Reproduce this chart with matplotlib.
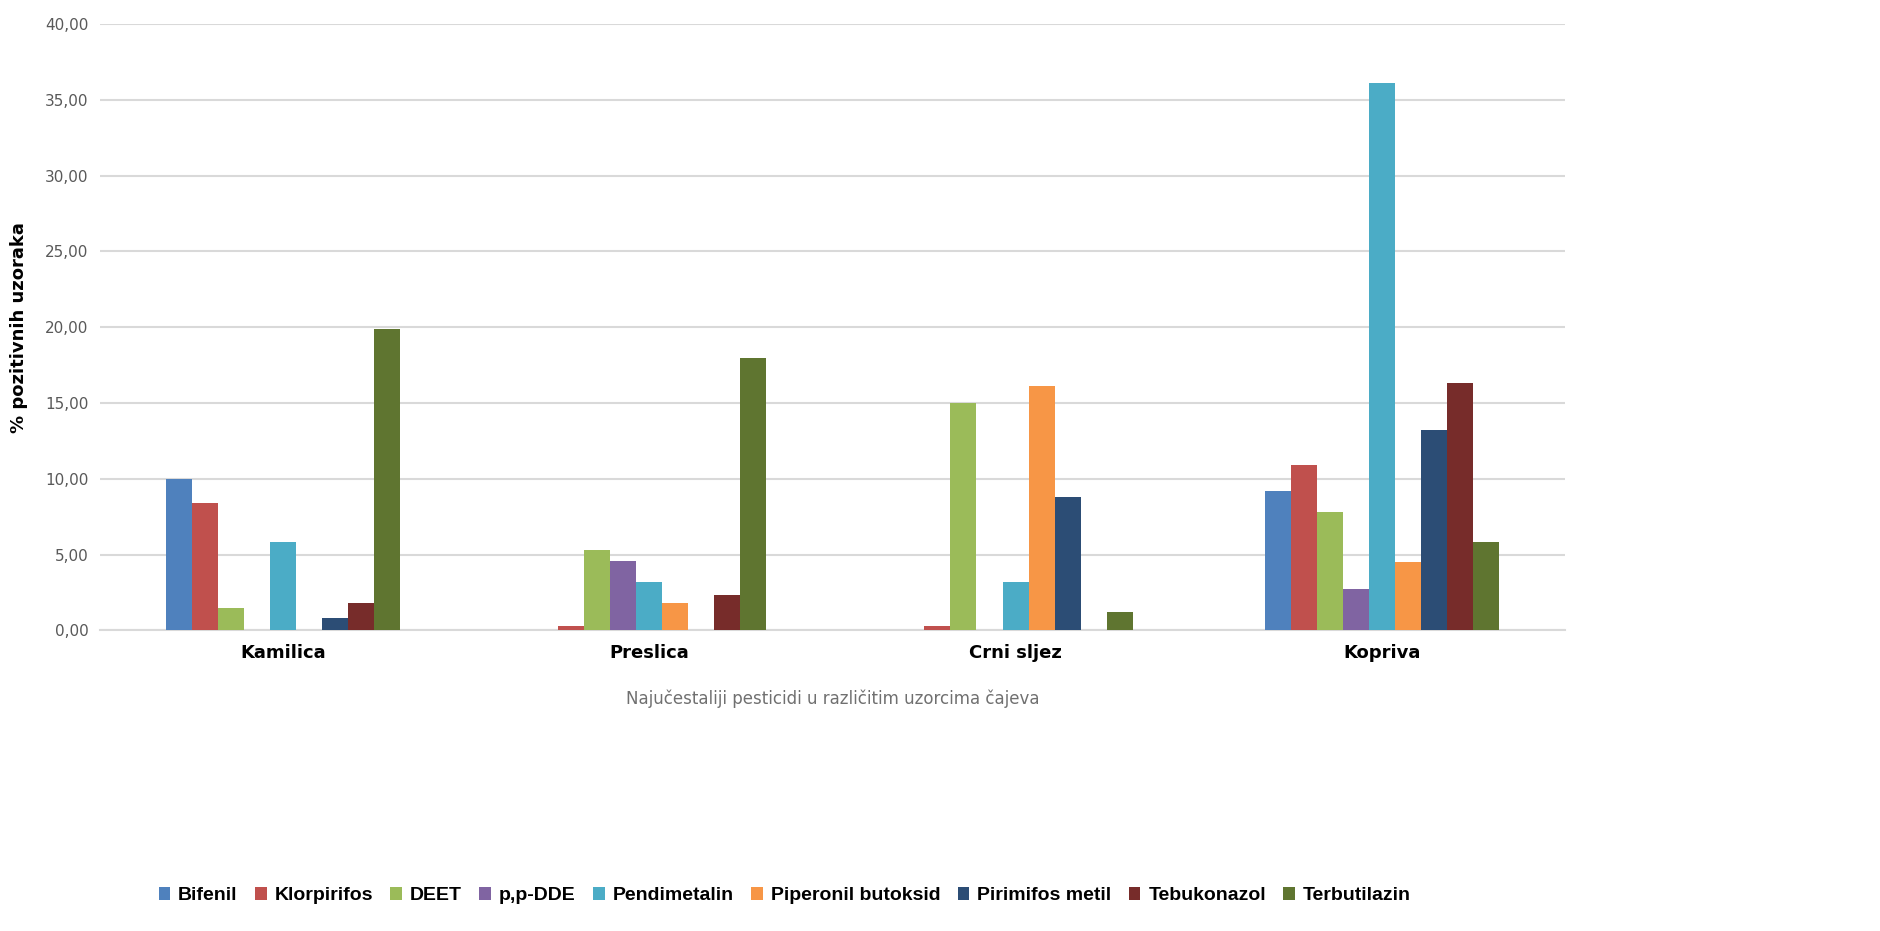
import matplotlib.pyplot as plt
import numpy as np
from matplotlib.ticker import FuncFormatter

categories = ['Kamilica', 'Preslica', 'Crni sljez', 'Kopriva']
series = ['Bifenil', 'Klorpirifos', 'DEET', 'p,p-DDE', 'Pendimetalin',
          'Piperonil butoksid', 'Pirimifos metil', 'Tebukonazol', 'Terbutilazin']

bifenil = [10.0, 0.0, 0.0, 9.2]
klorpirifos = [8.4, 0.3, 0.3, 10.9]
deet = [1.5, 5.3, 15.0, 7.8]
ppdde = [0.0, 4.6, 0.0, 2.7]
pendimetalin = [5.8, 3.2, 3.2, 36.1]
piperonil = [0.0, 1.8, 16.1, 4.5]
pirimifos = [0.8, 0.0, 8.8, 13.2]
tebukonazol = [1.8, 2.3, 0.0, 16.3]
terbutilazin = [19.9, 18.0, 1.2, 5.8]

values = [bifenil, klorpirifos, deet, ppdde, pendimetalin,
          piperonil, pirimifos, tebukonazol, terbutilazin]
colors = ['#4F81BD', '#C0504D', '#9BBB59', '#8064A2', '#4BACC6',
          '#F79646', '#2C4D75', '#772C2A', '#5F7530']

fig = plt.figure(figsize=(18.81, 9.31), dpi=100)
ax = fig.add_axes([0.053, 0.323, 0.779, 0.651])

x = np.arange(len(categories))
w = 0.071
for i, (name, vals) in enumerate(zip(series, values)):
    ax.bar(x + (i - 4) * w, vals, w, color=colors[i], label=name, zorder=3)

ax.set_xlim(-0.5, 3.5)
ax.set_ylim(0, 40)
ax.set_yticks(np.arange(0, 41, 5))
ax.yaxis.set_major_formatter(FuncFormatter(lambda v, p: f'{v:.2f}'.replace('.', ',')))
ax.grid(axis='y', color='#D9D9D9', linewidth=1.5, zorder=0)
for s in ['top', 'right', 'left']:
    ax.spines[s].set_visible(False)
ax.spines['bottom'].set_color('#D9D9D9')
ax.spines['bottom'].set_linewidth(1.5)
ax.tick_params(axis='y', length=0, labelsize=11, labelcolor='#595959', pad=8)
ax.tick_params(axis='x', length=0, pad=10)
ax.set_xticks(x)
ax.set_xticklabels(categories, fontsize=13, fontweight='bold')

ax.set_ylabel('% pozitivnih uzoraka', fontsize=13, fontweight='bold', labelpad=12)
ax.set_xlabel('Najučestaliji pesticidi u različitim uzorcima čajeva',
              fontsize=12, color='#707070', labelpad=20)

leg = fig.legend(loc='lower left', bbox_to_anchor=(0.075, 0.01), ncol=9,
                 frameon=False, handlelength=0.6, handleheight=0.6,
                 handletextpad=0.4, columnspacing=0.9,
                 prop={'family': ['Liberation Sans', 'DejaVu Sans'],
                       'weight': 'bold', 'size': 14})

fig.savefig('out.png', dpi=100)
